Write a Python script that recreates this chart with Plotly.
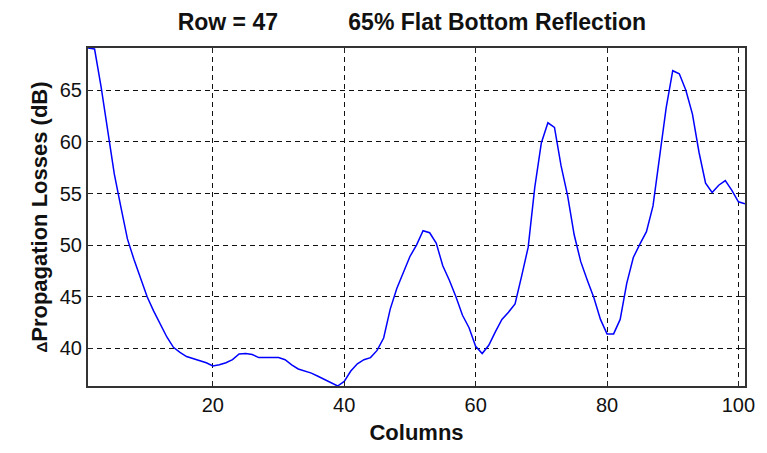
import plotly.graph_objects as go

columns = list(range(1, 102))
losses = [
    69.1, 69.0, 65.3, 61.2, 56.9, 53.7, 50.6, 48.6, 46.8, 45.0,
    43.6, 42.3, 41.1, 40.1, 39.6, 39.2, 39.0, 38.85, 38.6, 38.3,
    38.4, 38.6, 38.9, 39.45, 39.5, 39.4, 39.1, 39.1, 39.1, 39.1,
    38.9, 38.4, 38.0, 37.8, 37.6, 37.3, 37.0, 36.7, 36.35, 36.8,
    37.8, 38.5, 38.9, 39.1, 39.8, 41.0, 43.8, 45.8, 47.4, 48.9,
    50.0, 51.4, 51.2, 50.2, 48.0, 46.6, 45.0, 43.2, 42.0, 40.2,
    39.5, 40.3, 41.6, 42.8, 43.5, 44.3, 47.0, 49.8, 55.6, 59.9,
    61.85, 61.4, 57.7, 54.8, 51.0, 48.4, 46.6, 44.9, 42.8, 41.4,
    41.4, 42.8, 46.3, 48.8, 50.1, 51.3, 53.8, 58.5, 63.3, 66.9,
    66.6, 65.0, 62.7, 59.0, 56.0, 55.1, 55.8, 56.25, 55.3, 54.2,
    54.0,
]
x_ticks = [20, 40, 60, 80, 100]
y_ticks = [40, 45, 50, 55, 60, 65]

title_text = "Row = 47" + "\u00a0" * 11 + "65% Flat Bottom Reflection"
x_title = "Columns"
y_title = "<span style='font-size:15px'>Δ</span>Propagation Losses (dB)"

fig = go.Figure()
fig.add_trace(go.Scatter(x=columns, y=losses, mode="lines",
                         line=dict(color="#0000FF", width=1.5),
                         showlegend=False, hoverinfo="skip"))

font_family = "Liberation Sans, Arial, sans-serif"
axis_common = dict(
    showline=True, linecolor="#333", linewidth=2, mirror="ticks",
    ticks="inside", ticklen=5, tickcolor="#222", tickwidth=1,
    showgrid=True, gridcolor="#111", gridwidth=1.3, griddash="5px,4px",
    zeroline=False, tickfont=dict(family=font_family, size=20, color="#111"),
)

fig.update_layout(
    width=767, height=453,
    margin=dict(l=88, r=16, t=48, b=64),
    paper_bgcolor="white", plot_bgcolor="white",
    title=dict(text="<b>" + title_text + "</b>", x=0.537, xanchor="center",
               y=1 - 22 / 453, yanchor="middle",
               font=dict(family=font_family, size=23, color="#111")),
    xaxis=dict(range=[1, 101], tickvals=x_ticks,
               title=dict(text="<b>" + x_title + "</b>", standoff=10,
                          font=dict(family=font_family, size=22, color="#111")),
               **axis_common),
    yaxis=dict(range=[36.35, 69.1], tickvals=y_ticks,
               title=dict(text="<b>" + y_title + "</b>", standoff=6,
                          font=dict(family=font_family, size=22, color="#111")),
               **axis_common),
)

fig.write_html("out.html")
